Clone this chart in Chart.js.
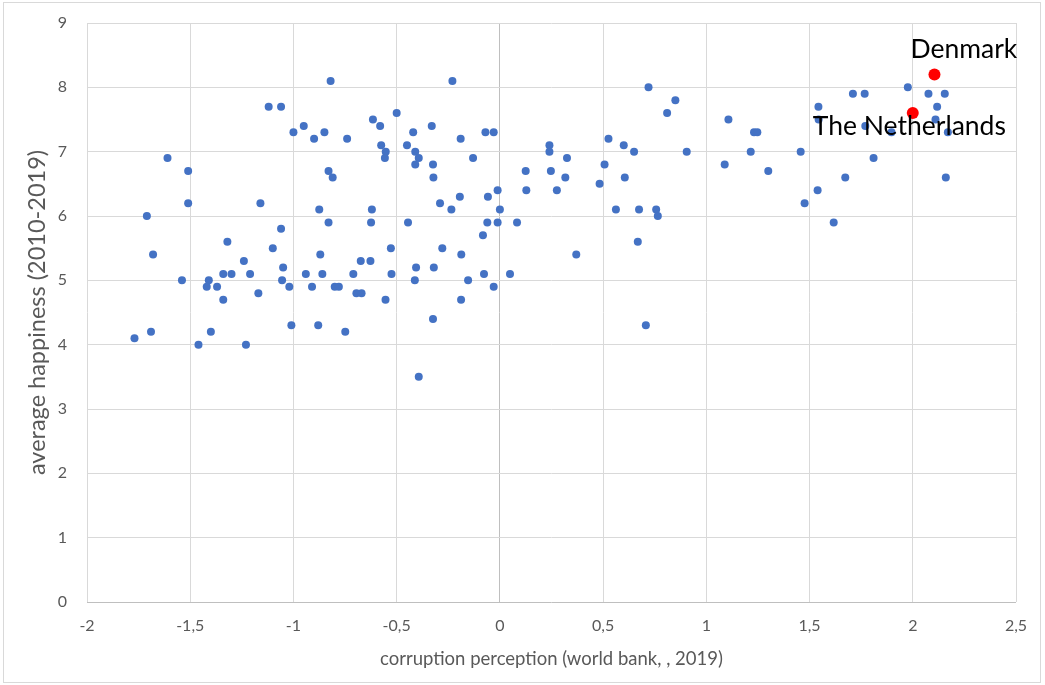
<!DOCTYPE html>
<html>
<head>
<meta charset="utf-8">
<script src="https://cdn.jsdelivr.net/npm/chart.js@4.4.1/dist/chart.umd.min.js"></script>
<style>
  html, body { margin: 0; padding: 0; background: #fff; }
  #wrap { position: relative; width: 1045px; height: 685px; }
</style>
</head>
<body>
<div id="wrap"><canvas id="happinessChart" width="1045" height="685"></canvas></div>
<script>
// corruption perception (x) en average happiness (y) per land
const corruption = [
  -1.12, -1.06, -1.00, -0.95, -0.90, -1.61, -1.51, -1.51, -1.16, -1.71,
  -0.875, -1.06, -1.32, -1.68, -1.10, -0.87, -1.24, -1.05, -1.34, -1.30,
  -1.21, -0.94, -0.86, -1.54, -1.41, -1.42, -1.37, -1.055, -1.02, -0.91,
  -1.17, -1.34, -1.01, -0.88, -1.77, -1.69, -1.40, -1.46, -1.23,
  -0.82, -0.23, -0.50, -0.615, -0.58, -0.85, -0.74, -0.42, -0.33, -0.19,
  -0.07, -0.03, -0.575, -0.553, -0.557, -0.45, -0.41, -0.393, -0.41, -0.324,
  -0.322, -0.13, -0.83, -0.81, -0.62, -0.83, -0.624, -0.445, -0.29, -0.235,
  -0.194, -0.058, -0.011, 0.0, -0.061, -0.011, 0.083, -0.082, -0.674, -0.627,
  -0.528, -0.279, -0.187, -0.71, -0.525, -0.406, -0.32, -0.077, 0.049, -0.412,
  -0.154, -0.80, -0.78, -0.03, -0.695, -0.67, -0.554, -0.188, -0.749, -0.324,
  -0.393,
  0.72, 0.85, 0.81, 0.24, 0.24, 0.325, 0.526, 0.60, 0.65, 0.905,
  0.125, 0.247, 0.507, 0.317, 0.605, 0.483, 0.128, 0.276, 0.562, 0.674,
  0.757, 0.765, 0.668, 0.37, 0.707,
  1.976, 1.71, 1.767, 2.076, 2.155, 1.543, 2.118, 1.107, 1.231, 1.247,
  1.544, 1.77, 2.11, 1.897, 2.17, 1.215, 1.457, 1.089, 1.30, 1.81,
  1.673, 2.16, 1.539, 1.476, 1.617
];
const happiness = [
  7.7, 7.7, 7.3, 7.4, 7.2, 6.9, 6.7, 6.2, 6.2, 6.0,
  6.1, 5.8, 5.6, 5.4, 5.5, 5.4, 5.3, 5.2, 5.1, 5.1,
  5.1, 5.1, 5.1, 5.0, 5.0, 4.9, 4.9, 5.0, 4.9, 4.9,
  4.8, 4.7, 4.3, 4.3, 4.1, 4.2, 4.2, 4.0, 4.0,
  8.1, 8.1, 7.6, 7.5, 7.4, 7.3, 7.2, 7.3, 7.4, 7.2,
  7.3, 7.3, 7.1, 7.0, 6.9, 7.1, 7.0, 6.9, 6.8, 6.8,
  6.6, 6.9, 6.7, 6.6, 6.1, 5.9, 5.9, 5.9, 6.2, 6.1,
  6.3, 6.3, 6.4, 6.1, 5.9, 5.9, 5.9, 5.7, 5.3, 5.3,
  5.5, 5.5, 5.4, 5.1, 5.1, 5.2, 5.2, 5.1, 5.1, 5.0,
  5.0, 4.9, 4.9, 4.9, 4.8, 4.8, 4.7, 4.7, 4.2, 4.4,
  3.5,
  8.0, 7.8, 7.6, 7.1, 7.0, 6.9, 7.2, 7.1, 7.0, 7.0,
  6.7, 6.7, 6.8, 6.6, 6.6, 6.5, 6.4, 6.4, 6.1, 6.1,
  6.1, 6.0, 5.6, 5.4, 4.3,
  8.0, 7.9, 7.9, 7.9, 7.9, 7.7, 7.7, 7.5, 7.3, 7.3,
  7.5, 7.4, 7.5, 7.3, 7.3, 7.0, 7.0, 6.8, 6.7, 6.9,
  6.6, 6.6, 6.4, 6.2, 5.9
];

// landen die rood gemarkeerd worden
const highlightNames = ['Denmark', 'The Netherlands'];
const highlightX = [2.105, 2.0];
const highlightY = [8.2, 7.6];

const xTicks = [-2, -1.5, -1, -0.5, 0, 0.5, 1, 1.5, 2, 2.5];

const fontFamily = 'Lato, "Liberation Sans", sans-serif';
const gridColor = '#d9d9d9';
const zeroColor = '#bfbfbf';

// komma als decimaalteken
const fmt = v => String(v).replace('.', ',');

const allPoints = corruption.map((x, i) => ({ x: x, y: happiness[i] }));
const redPoints = highlightX.map((x, i) => ({ x: x, y: highlightY[i] }));

// labels naast de rode punten + rand om de grafiek
const labelPlugin = {
  id: 'labelPlugin',
  afterDatasetsDraw(chart) {
    const ctx = chart.ctx;
    const xs = chart.scales.x, ys = chart.scales.y;
    const offsets = [[-24, -16], [-100, 22]];
    ctx.save();
    ctx.fillStyle = '#000';
    ctx.font = '26.5px ' + fontFamily;
    ctx.textAlign = 'left';
    ctx.textBaseline = 'alphabetic';
    highlightNames.forEach((name, i) => {
      const px = xs.getPixelForValue(highlightX[i]);
      const py = ys.getPixelForValue(highlightY[i]);
      ctx.fillText(name, px + offsets[i][0], py + offsets[i][1]);
    });
    ctx.strokeStyle = '#d9d9d9';
    ctx.lineWidth = 1;
    ctx.strokeRect(3.5, 2.5, 1037, 680);
    ctx.restore();
  }
};

const ctx = document.getElementById('happinessChart').getContext('2d');
new Chart(ctx, {
  type: 'scatter',
  data: {
    datasets: [
      {
        label: 'highlight',
        data: redPoints,
        backgroundColor: '#ff0000',
        borderWidth: 0,
        pointRadius: 6,
        order: 0
      },
      {
        label: 'landen',
        data: allPoints,
        backgroundColor: '#4472c4',
        borderWidth: 0,
        pointRadius: 4,
        order: 1
      }
    ]
  },
  options: {
    responsive: false,
    animation: false,
    layout: { padding: { left: 3, right: 29, top: 23, bottom: 3 } },
    plugins: {
      legend: { display: false },
      tooltip: { enabled: false }
    },
    scales: {
      x: {
        type: 'linear',
        min: -2,
        max: 2.5,
        afterBuildTicks: scale => { scale.ticks = xTicks.map(v => ({ value: v })); },
        afterFit: scale => { scale.height = 80; },
        border: { display: false },
        grid: {
          drawTicks: false,
          color: c => (c.tick && c.tick.value === 0 ? zeroColor : gridColor)
        },
        ticks: {
          padding: 14,
          color: '#595959',
          font: { family: fontFamily, size: 16 },
          callback: v => fmt(v)
        },
        title: {
          display: true,
          text: 'corruption perception (world bank, , 2019)',
          color: '#595959',
          font: { family: fontFamily, size: 18.5 },
          padding: { top: 0, bottom: 12 }
        }
      },
      y: {
        min: 0,
        max: 9,
        afterFit: scale => {
          scale.width = 84;
          scale.paddingTop = 0;
          scale.paddingBottom = 0;
        },
        border: { display: false },
        grid: {
          drawTicks: false,
          color: c => (c.tick && c.tick.value === 0 ? zeroColor : gridColor)
        },
        ticks: {
          stepSize: 1,
          padding: 20,
          color: '#595959',
          font: { family: fontFamily, size: 16 },
          callback: v => fmt(v)
        },
        title: {
          display: true,
          text: 'average happiness (2010-2019)',
          color: '#595959',
          font: { family: fontFamily, size: 23.5 },
          padding: { top: 20, bottom: 0 }
        }
      }
    }
  },
  plugins: [labelPlugin]
});
</script>
</body>
</html>
